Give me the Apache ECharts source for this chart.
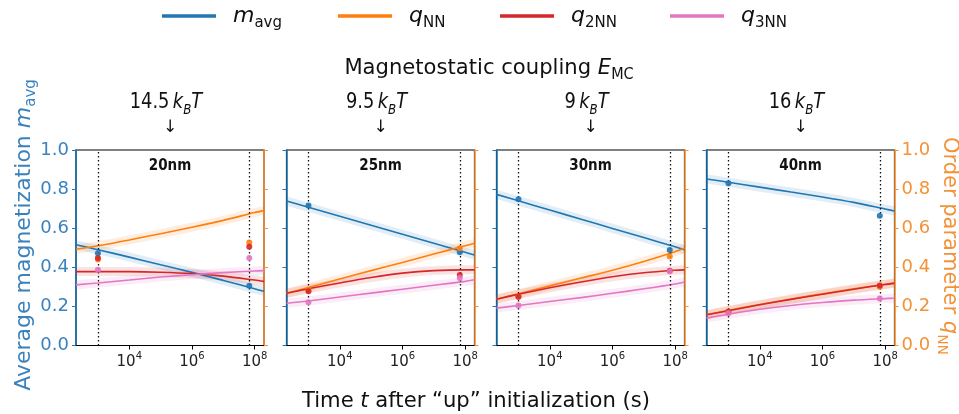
<!DOCTYPE html>
<html>
<head>
<meta charset="utf-8">
<title>Magnetization and order parameters vs time</title>
<script src="https://cdn.jsdelivr.net/npm/echarts@6.0.0/dist/echarts.min.js"></script>
<style>
  html, body { margin: 0; padding: 0; background: #fff; }
  #chart { width: 959px; height: 414px; }
</style>
</head>
<body>
<div id="chart"></div>
<script>
// log10 of time (s) at which each trajectory is sampled
const logT = [2.3, 3, 4, 5, 6, 7, 8, 8.3];
// log10 of the two snapshot times marked with dotted lines
const snapLogT = [3, 7.83];

const panelNames = ['20nm', '25nm', '30nm', '40nm'];
const couplingKT = ['14.5', '9.5', '9', '16'];
const xTickExp = [4, 6, 8];

// fitted trajectories, one row per panel
const mAvg = [
  [0.515, 0.490, 0.452, 0.413, 0.374, 0.333, 0.290, 0.277],
  [0.739, 0.707, 0.661, 0.615, 0.569, 0.523, 0.477, 0.463],
  [0.773, 0.740, 0.693, 0.646, 0.599, 0.552, 0.505, 0.490],
  [0.852, 0.835, 0.810, 0.785, 0.760, 0.732, 0.698, 0.688]
];
const qNN = [
  [0.492, 0.510, 0.540, 0.572, 0.605, 0.640, 0.680, 0.690],
  [0.267, 0.297, 0.340, 0.383, 0.425, 0.468, 0.510, 0.523],
  [0.237, 0.265, 0.305, 0.345, 0.385, 0.430, 0.480, 0.497],
  [0.157, 0.180, 0.210, 0.238, 0.264, 0.290, 0.313, 0.319]
];
const q2NN = [
  [0.378, 0.378, 0.378, 0.375, 0.368, 0.355, 0.335, 0.328],
  [0.267, 0.290, 0.320, 0.348, 0.370, 0.383, 0.387, 0.387],
  [0.237, 0.262, 0.295, 0.325, 0.352, 0.372, 0.385, 0.387],
  [0.157, 0.178, 0.208, 0.236, 0.262, 0.288, 0.312, 0.318]
];
const q3NN = [
  [0.310, 0.320, 0.335, 0.350, 0.362, 0.373, 0.381, 0.383],
  [0.216, 0.228, 0.248, 0.268, 0.288, 0.308, 0.328, 0.336],
  [0.191, 0.205, 0.225, 0.245, 0.267, 0.290, 0.315, 0.325],
  [0.140, 0.160, 0.185, 0.205, 0.220, 0.232, 0.240, 0.242]
];

// measured values at the two snapshot times, one row per panel
const mAvgSnap = [[0.472, 0.305], [0.716, 0.477], [0.748, 0.489], [0.830, 0.664]];
const qNNSnap  = [[0.440, 0.527], [0.285, 0.497], [0.250, 0.455], [0.174, 0.300]];
const q2NNSnap = [[0.448, 0.505], [0.278, 0.361], [0.250, 0.382], [0.172, 0.307]];
const q3NNSnap = [[0.388, 0.447], [0.221, 0.345], [0.204, 0.380], [0.165, 0.240]];

const BLUE = '#1f77b4', ORANGE = '#ff7f0e', RED = '#d62728', PINK = '#e377c2';
const AXIS_BLUE = '#3a82bd', AXIS_ORANGE = '#f39237';
const FONT = 'DejaVu Sans';

const species = [
  { key: 'mavg', curve: mAvg, snap: mAvgSnap, color: BLUE,   right: false, sub: 'avg', sym: 'm' },
  { key: 'qNN',  curve: qNN,  snap: qNNSnap,  color: ORANGE, right: true,  sub: 'NN',  sym: 'q' },
  { key: 'q2NN', curve: q2NN, snap: q2NNSnap, color: RED,    right: true,  sub: '2NN', sym: 'q' },
  { key: 'q3NN', curve: q3NN, snap: q3NNSnap, color: PINK,   right: true,  sub: '3NN', sym: 'q' }
];

const chart = echarts.init(document.getElementById('chart'), null, { renderer: 'canvas' });

const gridLeft = [76, 286.5, 496.5, 706.5];
const gridW = 188, gridTop = 150, gridH = 195.5;

const grids = [], xAxes = [], yAxes = [], series = [], graphic = [];

// italic symbol followed by an upright subscript
function mathRich(size, color) {
  return {
    i: { fontFamily: FONT, fontStyle: 'italic', fontSize: size, lineHeight: size + 7, color: color, fill: color },
    s: { fontFamily: FONT, fontSize: Math.round(size * 0.68), lineHeight: Math.round(size * 0.68), verticalAlign: 'bottom', color: color, fill: color },
    g: { width: 12 }
  };
}

panelNames.forEach((pname, p) => {
  grids.push({
    left: gridLeft[p], top: gridTop, width: gridW, height: gridH,
    show: true, borderColor: '#000', borderWidth: 1.2, backgroundColor: 'transparent'
  });
  xAxes.push({
    type: 'value', gridIndex: p, min: 2.3, max: 8.3,
    axisLine: { show: true, lineStyle: { color: '#000', width: 1.2 } },
    axisTick: { show: true, customValues: xTickExp, length: 4, lineStyle: { color: '#000' } },
    axisLabel: {
      show: true, customValues: xTickExp, margin: 6,
      formatter: v => '{b|10}{e|' + Math.round(v) + '}',
      rich: {
        b: { fontFamily: FONT, fontSize: 15, lineHeight: 22, color: '#222' },
        e: { fontFamily: FONT, fontSize: 10, lineHeight: 10, verticalAlign: 'top', color: '#222' }
      }
    },
    splitLine: { show: false }
  });
  // left axis: average magnetization
  yAxes.push({
    type: 'value', gridIndex: p, min: 0, max: 1, interval: 0.2, position: 'left',
    axisLine: { show: true, lineStyle: { color: BLUE, width: 1.6 } },
    axisTick: { show: true, length: 4, lineStyle: { color: BLUE } },
    axisLabel: {
      show: p === 0, color: AXIS_BLUE, fontFamily: FONT, fontSize: 18, margin: 7,
      formatter: v => v.toFixed(1)
    },
    splitLine: { show: false }
  });
  // right axis: order parameters
  yAxes.push({
    type: 'value', gridIndex: p, min: 0, max: 1, interval: 0.2, position: 'right',
    axisLine: { show: true, lineStyle: { color: AXIS_ORANGE, width: 1.6 } },
    axisTick: { show: true, length: 4, lineStyle: { color: AXIS_ORANGE } },
    axisLabel: {
      show: p === 3, color: AXIS_ORANGE, fontFamily: FONT, fontSize: 18, margin: 7,
      formatter: v => v.toFixed(1)
    },
    splitLine: { show: false }
  });

  species.forEach((sp, si) => {
    const yIdx = 2 * p + (sp.right ? 1 : 0);
    const pts = logT.map((x, k) => [x, sp.curve[p][k]]);
    // spread of individual runs, drawn as a soft halo around the fit
    series.push({
      name: sp.key, type: 'line', xAxisIndex: p, yAxisIndex: yIdx,
      data: pts, smooth: 0.3, symbol: 'none', silent: true, z: 2,
      lineStyle: { color: sp.color, width: 9, opacity: 0.13 },
      itemStyle: { color: sp.color }
    });
    const main = {
      name: sp.key, type: 'line', xAxisIndex: p, yAxisIndex: yIdx,
      data: pts, smooth: 0.3, symbol: 'none', z: 4,
      lineStyle: { color: sp.color, width: 1.6 },
      itemStyle: { color: sp.color }
    };
    if (si === 0) {
      main.markLine = {
        silent: true, symbol: ['none', 'none'], label: { show: false },
        lineStyle: { color: '#111', type: [1.5, 2.5], width: 1.3 },
        data: snapLogT.map(x => ({ xAxis: x }))
      };
    }
    series.push(main);
    series.push({
      name: sp.key, type: 'scatter', xAxisIndex: p, yAxisIndex: yIdx,
      data: snapLogT.map((x, k) => [x, sp.snap[p][k]]),
      symbolSize: 6, z: 5,
      itemStyle: { color: sp.color, opacity: 0.9 }
    });
  });

  const cx = gridLeft[p] + gridW / 2;
  // panel size label
  graphic.push({
    type: 'text', x: cx, y: 166, scaleX: 0.9,
    style: { text: pname, fontFamily: FONT, fontWeight: 'bold', fontSize: 15, fill: '#111', align: 'center', verticalAlign: 'middle' }
  });
  // coupling energy and arrow above each panel
  graphic.push({
    type: 'text', x: cx - 4, y: 103, scaleX: 0.85,
    style: {
      text: '{n|' + couplingKT[p] + '}{sp|}{k|k}{b|B}{k|T}',
      align: 'center', verticalAlign: 'middle',
      rich: {
        n: { fontFamily: FONT, fontSize: 21, lineHeight: 28, fill: '#111' },
        sp: { width: 4 },
        k: { fontFamily: FONT, fontStyle: 'italic', fontSize: 21, lineHeight: 28, fill: '#111' },
        b: { fontFamily: FONT, fontStyle: 'italic', fontSize: 14, lineHeight: 14, verticalAlign: 'bottom', fill: '#111' }
      }
    }
  });
  graphic.push({
    type: 'text', x: cx, y: 128,
    style: { text: '↓', fontFamily: FONT, fontSize: 17, fill: '#111', align: 'center', verticalAlign: 'middle' }
  });
});

// coupling heading
graphic.push({
  type: 'text', x: 489, y: 68, scaleX: 0.96,
  style: {
    text: 'Magnetostatic coupling {i|E}{s|MC}', align: 'center', verticalAlign: 'middle',
    fontFamily: FONT, fontSize: 22, fill: '#111',
    rich: mathRich(22, '#111')
  }
});
// x axis title
graphic.push({
  type: 'text', x: 476, y: 401, scaleX: 0.96,
  style: {
    text: 'Time {i|t} after \u201cup\u201d initialization (s)', align: 'center', verticalAlign: 'middle',
    fontFamily: FONT, fontSize: 22, fill: '#111',
    rich: { i: { fontFamily: FONT, fontStyle: 'italic', fontSize: 22, fill: '#111' } }
  }
});
// left axis title
graphic.push({
  type: 'text', x: 24, y: 235, rotation: Math.PI / 2,
  style: {
    text: 'Average magnetization {i|m}{s|avg}', align: 'center', verticalAlign: 'middle',
    fontFamily: FONT, fontSize: 22, fill: AXIS_BLUE,
    rich: mathRich(22, AXIS_BLUE)
  }
});
// right axis title
graphic.push({
  type: 'text', x: 949, y: 246, rotation: -Math.PI / 2,
  style: {
    text: 'Order parameter {i|q}{s|NN}', align: 'center', verticalAlign: 'middle',
    fontFamily: FONT, fontSize: 21, fill: AXIS_ORANGE,
    rich: mathRich(21, AXIS_ORANGE)
  }
});

// one legend block per quantity so each sits at its own column
const legendLeft = [162, 338, 500, 670];
const legends = species.map((sp, i) => ({
  left: legendLeft[i], top: 5, padding: 0, orient: 'horizontal',
  icon: 'rect', itemWidth: 54, itemHeight: 3.5, itemGap: 0,
  selectedMode: false,
  data: [{ name: sp.key, itemStyle: { color: sp.color } }],
  formatter: () => '{g|}{i|' + sp.sym + '}{s|' + sp.sub + '}',
  textStyle: { rich: mathRich(22, '#111') }
}));

chart.setOption({
  animation: false,
  backgroundColor: '#fff',
  legend: legends,
  grid: grids,
  xAxis: xAxes,
  yAxis: yAxes,
  series: series,
  graphic: graphic
});
</script>
</body>
</html>
